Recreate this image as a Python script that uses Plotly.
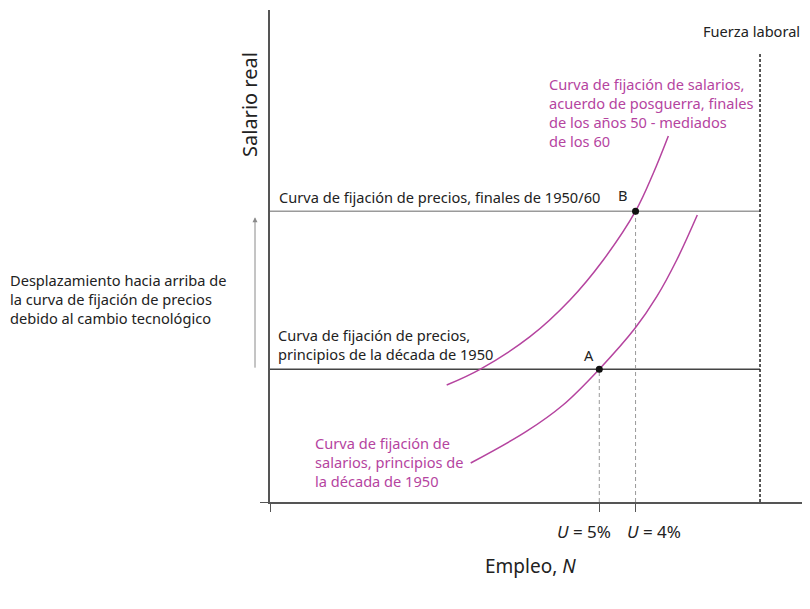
import plotly.graph_objects as go

# datos (unidades arbitrarias: empleo N, salario real W)
fuerza_laboral = 100
w_fuerza_top = 91.3
w_precios_1950 = 27.0
w_precios_1960 = 59.1
n_A, n_B = 67.2, 74.6
w_A, w_B = w_precios_1950, w_precios_1960

ws_1950_n = [40.96, 52.24, 59.8, 67.2, 74.49, 78.92, 83.0, 87.2]
ws_1950_w = [7.93, 14.29, 19.72, 27.0, 35.3, 41.73, 49.19, 58.33]

ws_posguerra_n = [36.06, 42.86, 53.06, 61.22, 68.02, 74.6, 78.22, 81.29]
ws_posguerra_w = [23.78, 26.97, 33.6, 41.06, 49.19, 59.1, 66.81, 74.39]

x_max, y_max = 110.2, 100

magenta = '#b5449f'
font = 'Noto Sans'

# la página tiene un margen de 8 px, se compensa en los márgenes
W, H = 802, 593
margin = dict(l=262, r=0, t=2, b=99)
plot_h = H - margin['t'] - margin['b']

fig = go.Figure()

# curvas de fijación de precios
fig.add_trace(go.Scatter(x=[0, fuerza_laboral], y=[w_precios_1960, w_precios_1960],
                         mode='lines', line=dict(color='#9a9a9a', width=1.5)))
fig.add_trace(go.Scatter(x=[0, fuerza_laboral], y=[w_precios_1950, w_precios_1950],
                         mode='lines', line=dict(color='#444444', width=1.5)))

# líneas discontinuas
fig.add_trace(go.Scatter(x=[n_A, n_A], y=[0, w_A], mode='lines',
                         line=dict(color='#9a9a9a', width=1, dash='4px,3px')))
fig.add_trace(go.Scatter(x=[n_B, n_B], y=[0, w_B], mode='lines',
                         line=dict(color='#9a9a9a', width=1, dash='4px,3px')))
fig.add_trace(go.Scatter(x=[fuerza_laboral, fuerza_laboral], y=[0, w_fuerza_top], mode='lines',
                         line=dict(color='#222222', width=1.5, dash='3px,2px')))

# curvas de fijación de salarios
fig.add_trace(go.Scatter(x=ws_1950_n, y=ws_1950_w, mode='lines',
                         line=dict(color=magenta, width=1.5, shape='spline')))
fig.add_trace(go.Scatter(x=ws_posguerra_n, y=ws_posguerra_w, mode='lines',
                         line=dict(color=magenta, width=1.5, shape='spline')))

# puntos A y B
fig.add_trace(go.Scatter(x=[n_A, n_B], y=[w_A, w_B], mode='markers',
                         marker=dict(color='#111111', size=7)))

black = dict(family=font, size=14.6, color='#222222')
mag = dict(family=font, size=14.6, color=magenta)


def note(n, w, text, fnt=black, **kw):
    # posición en unidades de los ejes, pasada a 'paper' para que no se oculte fuera del rango
    d = dict(x=n / x_max, y=w / y_max, xref='paper', yref='paper', text=text,
             font=fnt, showarrow=False, align='left')
    d.update(kw)
    return d


arrow_top = 57.9

annotations = [
    note(-4.08, 80.7, 'Salario real', dict(family=font, size=20, color='#222'),
         textangle=-90, xanchor='center', yanchor='middle'),
    note(53.06, -13.0, 'Empleo, <i>N</i>', dict(family=font, size=19, color='#222'),
         xanchor='center', yanchor='middle'),
    note(70.0, -5.9, '<i>U</i> = 5%', dict(family=font, size=17, color='#222'),
         xanchor='right', yanchor='middle'),
    note(72.45, -5.9, '<i>U</i> = 4%', dict(family=font, size=17, color='#222'),
         xanchor='left', yanchor='middle'),
    note(108.6, 95.7, 'Fuerza laboral', xanchor='right', yanchor='middle'),
    note(56.5, 79.1,
         'Curva de fijación de salarios,<br>acuerdo de posguerra, finales<br>'
         'de los años 50 - mediados<br>de los 60',
         mag, xanchor='left', yanchor='middle'),
    note(1.43, 62.0, 'Curva de fijación de precios, finales de 1950/60',
         xanchor='left', yanchor='middle'),
    note(72.0, 62.4, 'B', xanchor='center', yanchor='middle'),
    note(65.1, 29.9, 'A', xanchor='center', yanchor='middle'),
    note(1.2, 32.0, 'Curva de fijación de precios,<br>principios de la década de 1950',
         xanchor='left', yanchor='middle'),
    note(8.78, 8.13, 'Curva de fijación de<br>salarios, principios de<br>la década de 1950',
         mag, xanchor='left', yanchor='middle'),
    note(-53.47, 41.26,
         'Desplazamiento hacia arriba de<br>la curva de fijación de precios<br>'
         'debido al cambio tecnológico',
         xanchor='left', yanchor='middle'),
    # flecha del desplazamiento
    note(-3.06, arrow_top, '', showarrow=True, axref='pixel', ayref='pixel',
         ax=0, ay=(arrow_top - w_precios_1950) * plot_h / y_max,
         arrowhead=2, arrowsize=1, arrowwidth=1, arrowcolor='#8a8a8a'),
]

fig.update_layout(
    width=W, height=H,
    margin=margin,
    plot_bgcolor='white', paper_bgcolor='white',
    showlegend=False,
    annotations=annotations,
    font=dict(family=font),
)
fig.update_xaxes(range=[0, x_max], showgrid=False, zeroline=False, showline=True,
                 linecolor='#555555', linewidth=1.5, ticks='outside', ticklen=8,
                 tickcolor='#555555', tickvals=[0, n_A, n_B], showticklabels=False)
fig.update_yaxes(range=[0, y_max], showgrid=False, zeroline=False, showline=True,
                 linecolor='#555555', linewidth=1.5, ticks='outside', ticklen=8,
                 tickcolor='#555555', tickvals=[0], showticklabels=False)

fig.write_html('out.html')
